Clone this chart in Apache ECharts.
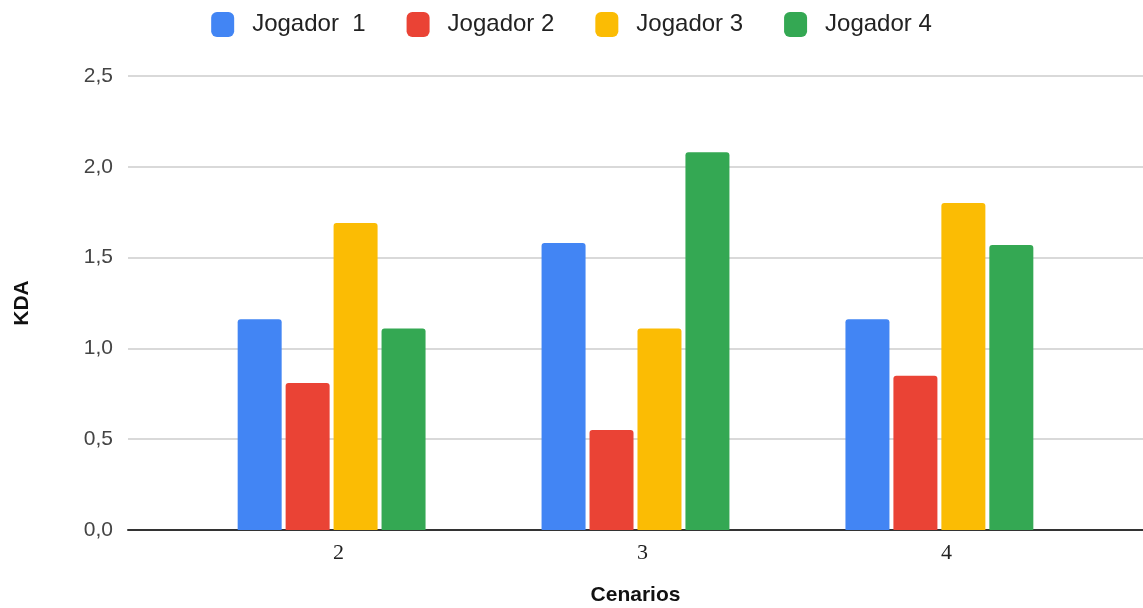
<!DOCTYPE html>
<html>
<head>
<meta charset="utf-8">
<script src="https://cdn.jsdelivr.net/npm/echarts@6/dist/echarts.min.js"></script>
<style>
  html, body { margin: 0; padding: 0; background: #fff; }
  #chart { width: 1143px; height: 608px; }
</style>
</head>
<body>
<div id="chart"></div>
<script>
// Scenarios on the horizontal axis
const cenarios = [2, 3, 4];

// KDA per player, one value per scenario
const jogador1 = [1.16, 1.58, 1.16];
const jogador2 = [0.81, 0.55, 0.85];
const jogador3 = [1.69, 1.11, 1.80];
const jogador4 = [1.11, 2.08, 1.57];

const seriesNames = ['Jogador  1', 'Jogador 2', 'Jogador 3', 'Jogador 4'];
const seriesData = [jogador1, jogador2, jogador3, jogador4];
const colors = ['#4285F4', '#EA4335', '#FBBC04', '#34A853'];

const yTicks = [0, 0.5, 1, 1.5, 2, 2.5];

const chart = echarts.init(document.getElementById('chart'));

chart.setOption({
  animation: false,
  color: colors,
  textStyle: { fontFamily: 'Liberation Sans, Arial, sans-serif' },
  legend: {
    top: 7,
    left: 'center',
    itemWidth: 23,
    itemHeight: 25,
    itemGap: 41,
    icon: 'roundRect',
    textStyle: { fontSize: 24, color: '#222', padding: [0, 0, 0, 13] },
    data: seriesNames
  },
  grid: { left: 128, right: 0, top: 76, bottom: 78, outerBoundsMode: 'none', containLabel: false },
  xAxis: {
    type: 'value',
    min: 1.33,
    max: 4.67,
    name: 'Cenarios',
    nameLocation: 'middle',
    nameGap: 55,
    nameTextStyle: { fontSize: 21, fontWeight: 'bold', color: '#111' },
    splitLine: { show: false },
    axisTick: { show: false },
    axisLine: { show: true, lineStyle: { color: '#333', width: 2 } },
    axisLabel: {
      customValues: cenarios,
      formatter: v => String(v),
      fontFamily: 'Liberation Serif, Times New Roman, serif',
      fontSize: 22,
      color: '#222',
      margin: 12,
      padding: [0, 0, 0, 14]
    }
  },
  yAxis: {
    type: 'value',
    min: 0,
    max: 2.5,
    interval: 0.5,
    name: 'KDA',
    nameLocation: 'middle',
    nameGap: 95,
    nameTextStyle: { fontSize: 21, fontWeight: 'bold', color: '#111' },
    axisLine: { show: false },
    axisTick: { show: false },
    splitLine: { lineStyle: { color: '#cccccc', width: 1.5 } },
    axisLabel: {
      customValues: yTicks,
      formatter: v => v.toFixed(1).replace('.', ','),
      fontSize: 21,
      color: '#444',
      margin: 15
    }
  },
  series: seriesData.map((vals, i) => ({
    name: seriesNames[i],
    type: 'bar',
    barWidth: 44,
    barGap: '9%',
    z: 3,
    itemStyle: { borderRadius: [3, 3, 0, 0] },
    data: cenarios.map((c, j) => [c, vals[j]])
  }))
});
</script>
</body>
</html>
